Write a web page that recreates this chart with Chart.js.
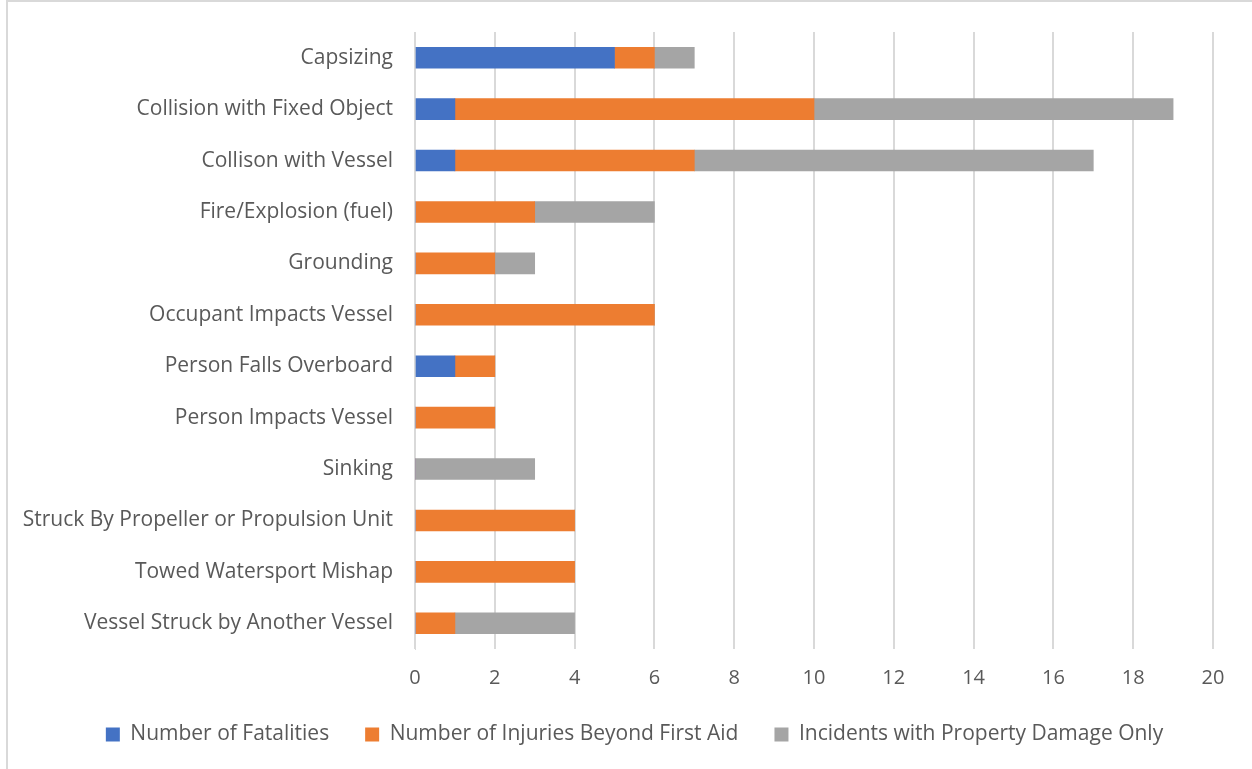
<!DOCTYPE html>
<html>
<head>
<meta charset="utf-8">
<script src="https://cdn.jsdelivr.net/npm/chart.js@4/dist/chart.umd.min.js"></script>
<style>
  html, body { margin: 0; padding: 0; background: #fff; overflow: hidden; }
  #wrap { position: relative; width: 1246px; height: 767px;
          border-top: 2px solid #d9d9d9; border-left: 2px solid #d9d9d9; margin-left: 6px; }
  canvas { display: block; }
</style>
</head>
<body>
<div id="wrap"><canvas id="chartCausas" width="1244" height="767"></canvas></div>
<script>
// datos
const categorias = [
  "Capsizing",
  "Collision with Fixed Object",
  "Collison with Vessel",
  "Fire/Explosion (fuel)",
  "Grounding",
  "Occupant Impacts Vessel",
  "Person Falls Overboard",
  "Person Impacts Vessel",
  "Sinking",
  "Struck By Propeller or Propulsion Unit",
  "Towed Watersport Mishap",
  "Vessel Struck by Another Vessel",
]
const fatalidades = [5, 1, 1, 0, 0, 0, 1, 0, 0, 0, 0, 0]
const lesiones    = [1, 9, 6, 3, 2, 6, 1, 2, 0, 4, 4, 1]
const soloDanos   = [1, 9, 10, 3, 1, 0, 0, 0, 3, 0, 0, 3]
const ticksX = [0, 2, 4, 6, 8, 10, 12, 14, 16, 18, 20]

const fuente = "'Open Sans', 'Noto Sans', sans-serif"
const colorTexto = "#595959"

// la leyenda va algo corrida a la derecha en el original
const moverLeyenda = {
  id: "moverLeyenda",
  afterLayout(chart) {
    if (chart.legend) {
      chart.legend.left += 48
    }
  },
}

new Chart(document.getElementById("chartCausas"), {
  type: "bar",
  data: {
    labels: categorias,
    datasets: [
      { label: "Number of Fatalities", data: fatalidades, backgroundColor: "#4472C4" },
      { label: "Number of Injuries Beyond First Aid", data: lesiones, backgroundColor: "#ED7D31" },
      { label: "Incidents with Property Damage Only", data: soloDanos, backgroundColor: "#A5A5A5" },
    ],
  },
  plugins: [moverLeyenda],
  options: {
    indexAxis: "y",
    responsive: false,
    animation: false,
    maintainAspectRatio: false,
    layout: { padding: { top: 30, right: 39, left: 0, bottom: 14 } },
    datasets: { bar: { barThickness: 21 } },
    plugins: {
      tooltip: { enabled: false },
      legend: {
        position: "bottom",
        labels: {
          color: colorTexto,
          font: { family: fuente, size: 21 },
          boxWidth: 14,
          boxHeight: 14,
          padding: 36,
        },
      },
    },
    scales: {
      x: {
        stacked: true,
        min: 0,
        max: 20,
        afterBuildTicks: (axis) => { axis.ticks = ticksX.map((v) => ({ value: v })) },
        grid: { color: "#d9d9d9", lineWidth: 2, drawTicks: false },
        border: { display: false },
        ticks: { color: colorTexto, font: { family: fuente, size: 20 }, padding: 17 },
        afterFit: (axis) => { axis.height = 39 },
      },
      y: {
        stacked: true,
        grid: { display: false },
        border: { display: true, color: "#d9d9d9", width: 1 },
        ticks: { color: colorTexto, font: { family: fuente, size: 21 }, padding: 14 },
        afterFit: (axis) => { axis.width = 407 },
      },
    },
  },
})
</script>
</body>
</html>
